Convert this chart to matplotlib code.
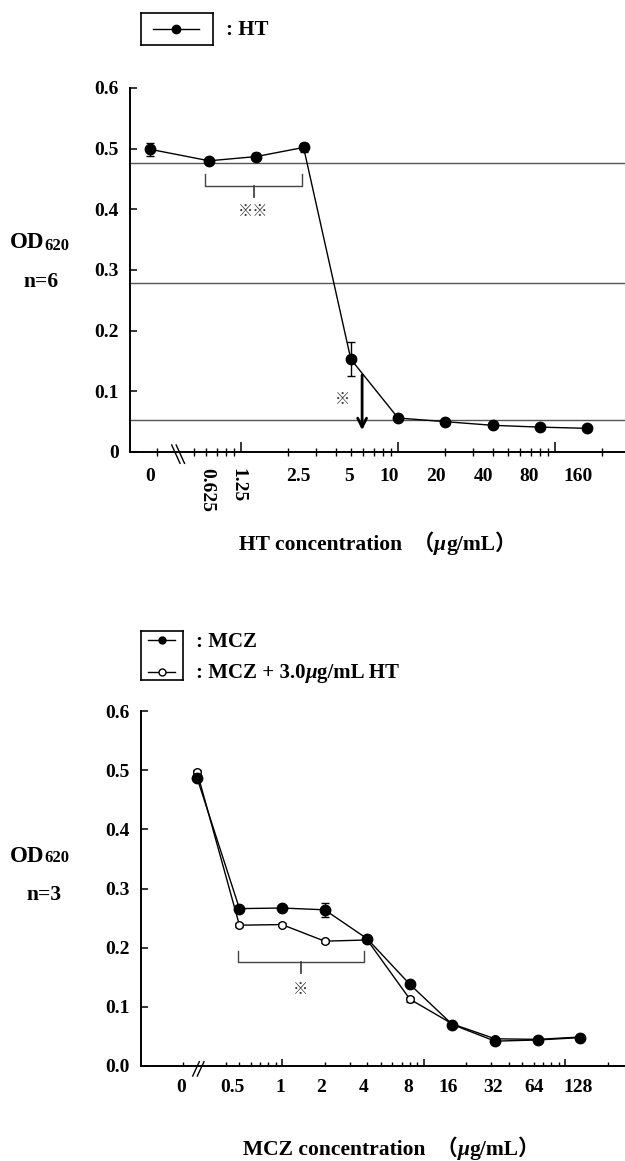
import matplotlib
matplotlib.use('Agg')
import matplotlib.pyplot as plt
from matplotlib.lines import Line2D
from matplotlib.text import Annotation
from matplotlib.ticker import NullFormatter
import numpy as np

W, H = 625, 1161
SERIF = ['Liberation Serif', 'Noto Sans CJK JP', 'DejaVu Sans']
MARK = ['Noto Sans CJK JP', 'DejaVu Sans']

# HT alone (n=6)
ht_conc = [0, 0.625, 1.25, 2.5, 5, 10, 20, 40, 80, 160]
ht_od = [0.499, 0.480, 0.487, 0.502, 0.153, 0.056, 0.050, 0.044, 0.041, 0.039]
ht_err = [0.011, 0.003, 0.006, 0.008, 0.028, 0.003, 0.003, 0.003, 0.002, 0.002]
ht_ref = [0.476, 0.279, 0.052]

# MCZ with / without HT (n=3)
mcz_conc = [0, 0.5, 1, 2, 4, 8, 16, 32, 64, 128]
mcz_od = [0.487, 0.266, 0.267, 0.264, 0.215, 0.138, 0.070, 0.042, 0.044, 0.048]
mcz_err = [0.004, 0.003, 0.003, 0.012, 0.003, 0.004, 0.002, 0.002, 0.002, 0.002]
mcz_ht_od = [0.497, 0.238, 0.239, 0.211, 0.213, 0.113, 0.071, 0.046, 0.045, 0.049]
mcz_ht_err = [0.003, 0.003, 0.003, 0.003, 0.003, 0.004, 0.002, 0.002, 0.002, 0.002]

yticks = [0, 0.1, 0.2, 0.3, 0.4, 0.5, 0.6]
TICK_FS = 14


def fx(px):
    return px / W


def fy(py):
    return 1 - py / H


def chain(fig, x, y, pieces, size, va='center'):
    # pieces of text drawn one after the other (for italic mu etc.)
    s0, st0, sz0 = pieces[0]
    t = fig.text(fx(x), fy(y), s0, fontsize=sz0 or size, fontweight='bold',
                 fontstyle=st0, family=SERIF, va=va)
    for s, st, sz in pieces[1:]:
        t = Annotation(s, xy=(1, 0), xycoords=t, va='bottom', ha='left',
                       fontsize=sz or size, fontweight='bold', fontstyle=st,
                       family=SERIF, annotation_clip=False)
        fig.add_artist(t)
    return t


def setup(ax, xlim, zero_tick, first_minor, maj_len, min_len, min_dir):
    ax.set_xscale('log')
    ax.set_xlim(xlim)
    ax.set_ylim(0, 0.6)
    ax.set_xticks([1, 10, 100])
    minors = [m * d for d in (0.1, 1, 10, 100) for m in range(2, 10)]
    minors = [v for v in minors if first_minor - 1e-9 <= v <= xlim[1]] + [zero_tick]
    ax.set_xticks(minors, minor=True)
    ax.xaxis.set_major_formatter(NullFormatter())
    ax.xaxis.set_minor_formatter(NullFormatter())
    ax.tick_params(axis='x', which='major', direction='in', length=7, width=1.1)
    ax.tick_params(axis='x', which='minor', direction=min_dir, length=min_len, width=1)
    ax.tick_params(axis='x', which='major', length=maj_len)
    ax.tick_params(axis='y', direction='in', length=5, width=1.1, pad=8)
    for sp in ('top', 'right'):
        ax.spines[sp].set_visible(False)
    for sp in ('left', 'bottom'):
        ax.spines[sp].set_linewidth(1.4)
    ax.set_yticks(yticks)


def xlabels(ax, conc, zero_x, dxs, dy, rotated=()):
    for i, c in enumerate(conc):
        x = zero_x if c == 0 else c
        if i in rotated:
            ax.annotate(f'{c:g}', xy=(x, 0), xycoords=('data', 'axes fraction'),
                        xytext=(dxs[i], -16), textcoords='offset pixels',
                        ha='center', va='top', rotation=-90, fontsize=TICK_FS,
                        fontweight='bold', family=SERIF)
        else:
            ax.annotate(f'{c:g}', xy=(x, 0), xycoords=('data', 'axes fraction'),
                        xytext=(dxs[i], -dy), textcoords='offset pixels',
                        ha='center', va='center', fontsize=TICK_FS,
                        fontweight='bold', family=SERIF)


def brace(ax, x0, x1, y_top, y_bar, y_tip):
    xc = np.sqrt(x0 * x1)
    ax.plot([x0, x0, x1, x1], [y_top, y_bar, y_bar, y_top], color='#444', lw=1)
    ax.plot([xc, xc], [y_bar, y_tip], color='#444', lw=1.3)


def break_mark(fig, lines):
    for (x0, y0), (x1, y1) in lines:
        fig.add_artist(Line2D([fx(x0), fx(x1)], [fy(y0), fy(y1)],
                              transform=fig.transFigure, color='black', lw=1))


def legend_box(fig, rect, rows, ms):
    lax = fig.add_axes(rect)
    lax.set_xlim(0, 1)
    lax.set_ylim(0, 1)
    lax.set_xticks([])
    lax.set_yticks([])
    for sp in lax.spines.values():
        sp.set_linewidth(1.2)
    for y, filled in rows:
        lax.plot([0.17, 0.81], [y, y], color='black', lw=1)
        lax.plot([0.49], [y], 'o', color='black', ms=ms,
                 mfc='black' if filled else 'white', mew=1)


plt.rcParams['font.family'] = SERIF
fig = plt.figure(figsize=(W / 100, H / 100), dpi=100)

# ---------------- top chart: HT ----------------
ax1 = fig.add_axes([fx(130), fy(452), fx(W - 130), 364 / H])
ht_zero = 0.263
setup(ax1, (0.196, 279), 0.29, 0.5, 7, 6, 'inout')
ax1.set_yticklabels(['0', '0.1', '0.2', '0.3', '0.4', '0.5', '0.6'],
                    fontsize=TICK_FS, fontweight='bold')
for r in ht_ref:
    ax1.axhline(r, color='#555', lw=1, zorder=1)
ht_x = [ht_zero if c == 0 else c for c in ht_conc]
ax1.errorbar(ht_x, ht_od, yerr=ht_err, fmt='-o', color='black', ms=7.5, lw=1,
             elinewidth=1, capsize=3, zorder=3, clip_on=False)
xlabels(ax1, ht_conc, ht_zero, [0, -2, -18, -5, -2, -9, -9, -9, -11, -9], 25,
        rotated=(1, 2))
brace(ax1, 0.59, 2.45, 0.459, 0.439, 0.421)
ax1.text(1.2, 0.397, '※※', ha='center', va='center', fontsize=11,
         family=MARK, color='#333')
ax1.text(4.4, 0.087, '※', ha='center', va='center', fontsize=11,
         family=MARK, color='#333')
ax1.annotate('', xy=(5.9, 0.036), xytext=(5.9, 0.127),
             arrowprops=dict(arrowstyle='->', lw=2, color='black',
                             mutation_scale=16, shrinkA=0, shrinkB=0))
break_mark(fig, [((171.7, 445), (180, 463.3)), ((176.2, 445), (184.5, 463.3))])

chain(fig, 239, 545, [('HT concentration  （', 'normal', None),
                      ('μ', 'italic', None), ('g/mL）', 'normal', None)], 15.5)
chain(fig, 10, 243, [('OD', 'normal', 16.5), ('620', 'normal', 12)], 16.5)
fig.text(fx(23), fy(282), 'n=6', fontsize=15.5, fontweight='bold', va='center')

legend_box(fig, [fx(141), fy(45), 72 / W, 32 / H], [(0.5, True)], 6)
fig.text(fx(226), fy(30), ': HT', fontsize=15, fontweight='bold', va='center')

# ---------------- bottom chart: MCZ ----------------
ax2 = fig.add_axes([fx(141), fy(1066), fx(W - 141), 355 / H])
mcz_zero = 0.251
setup(ax2, (0.1008, 265), 0.2, 0.4, 5, 3, 'in')
ax2.set_yticklabels([f'{v:.1f}' for v in yticks], fontsize=TICK_FS, fontweight='bold')
mcz_x = [mcz_zero if c == 0 else c for c in mcz_conc]
ax2.errorbar(mcz_x, mcz_ht_od, yerr=mcz_ht_err, fmt='-o', color='black', ms=5.5,
             mfc='white', mew=1, lw=1, elinewidth=1, capsize=3, zorder=3,
             clip_on=False)
ax2.errorbar(mcz_x, mcz_od, yerr=mcz_err, fmt='-o', color='black', ms=7.5, lw=1,
             elinewidth=1, capsize=3, zorder=4, clip_on=False)
xlabels(ax2, mcz_conc, mcz_zero, [-16, -7, -2, -4, -4, -2, -4, -2, -4, -2], 21)
brace(ax2, 0.489, 3.77, 0.195, 0.175, 0.157)
ax2.text(1.36, 0.130, '※', ha='center', va='center', fontsize=11,
         family=MARK, color='#333')
break_mark(fig, [((192.7, 1076), (199.3, 1061.7)), ((197.3, 1076), (204, 1061.7))])

chain(fig, 243, 1150, [('MCZ concentration  （', 'normal', None),
                       ('μ', 'italic', None), ('g/mL）', 'normal', None)], 15.5)
chain(fig, 10, 856, [('OD', 'normal', 16.5), ('620', 'normal', 12)], 16.5)
fig.text(fx(26), fy(895), 'n=3', fontsize=15.5, fontweight='bold', va='center')

legend_box(fig, [fx(141), fy(680), 42 / W, 49 / H], [(0.816, True), (0.163, False)], 5)
fig.text(fx(196), fy(642), ': MCZ', fontsize=15, fontweight='bold', va='center')
chain(fig, 196, 673, [(': MCZ + 3.0', 'normal', None), ('μ', 'italic', None),
                      ('g/mL HT', 'normal', None)], 15)

fig.savefig('out.png', dpi=100)
